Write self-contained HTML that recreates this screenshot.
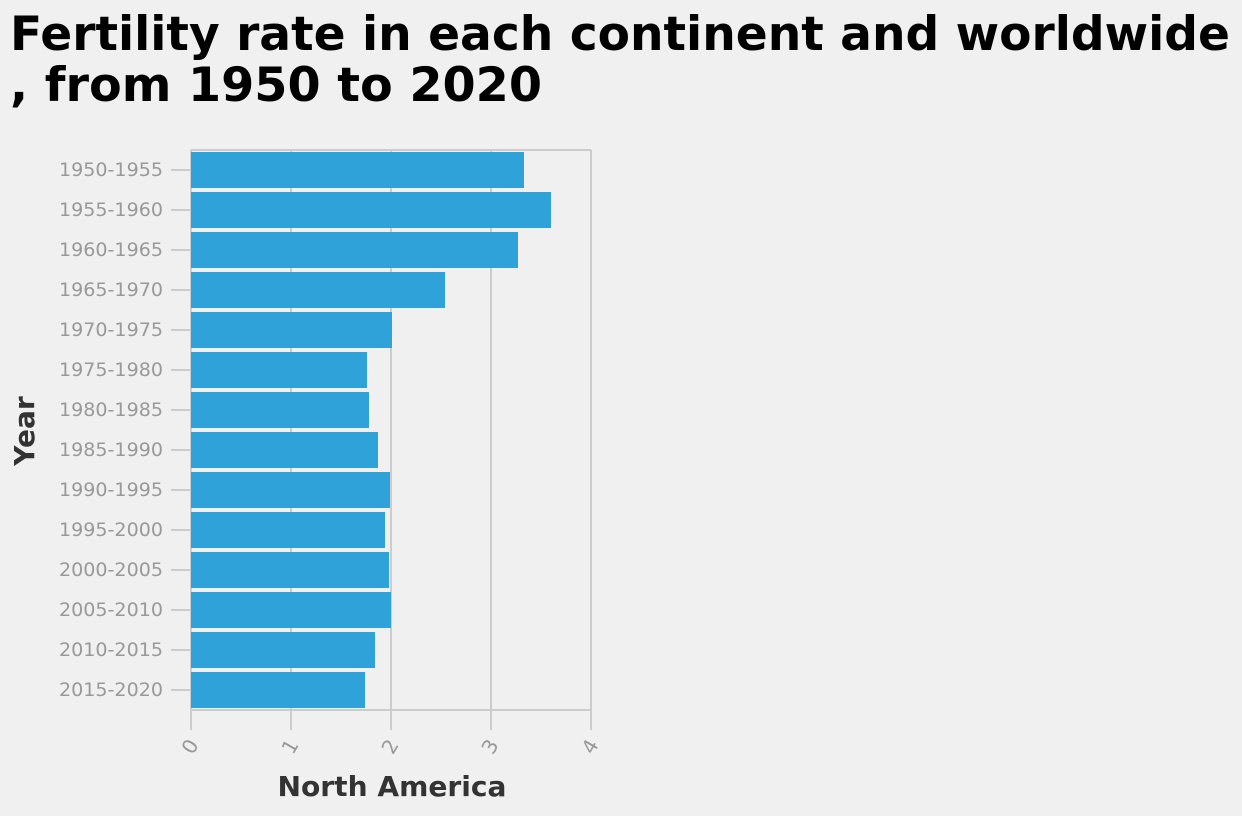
<!DOCTYPE html>
<html><head><meta charset="utf-8"><style>
body{margin:0;background:#f0f0f0;font-family:"DejaVu Sans","Liberation Sans",sans-serif;}
</style></head><body>
<svg width="1242" height="812" xmlns="http://www.w3.org/2000/svg">
<text x="10" y="50" font-size="47" font-weight="bold" fill="#000" textLength="1220" lengthAdjust="spacingAndGlyphs">Fertility rate in each continent and worldwide</text>
<text x="10" y="101" font-size="47" font-weight="bold" fill="#000" textLength="532" lengthAdjust="spacingAndGlyphs">, from 1950 to 2020</text>
<g id="plot"></g>
<text x="392" y="796" font-size="28" font-weight="bold" fill="#333" text-anchor="middle" textLength="229" lengthAdjust="spacingAndGlyphs">North America</text>
<text transform="translate(34,431) rotate(-90)" font-size="28" font-weight="bold" fill="#333" text-anchor="middle">Year</text>
</svg>
<script>
const categories=["1950-1955","1955-1960","1960-1965","1965-1970","1970-1975","1975-1980","1980-1985","1985-1990","1990-1995","1995-2000","2000-2005","2005-2010","2010-2015","2015-2020"];
const values=[3.33,3.60,3.27,2.54,2.01,1.76,1.78,1.87,1.99,1.94,1.98,2.00,1.84,1.74];
const xTicks=[0,1,2,3,4];
const NS="http://www.w3.org/2000/svg";
const g=document.getElementById('plot');
const x0=191,x1=591,y0=150,y1=710;
const x=v=>x0+(v-0)/(4-0)*(x1-x0);
const band=(y1-y0)/categories.length;
const y=i=>y0+i*band;
function mk(t,a){const e=document.createElementNS(NS,t);for(const k in a)e.setAttribute(k,a[k]);g.appendChild(e);return e;}
let e=mk('line',{x1:x0,y1:y0,x2:x1,y2:y0,stroke:'#ccc','stroke-width':2});


xTicks.forEach(t=>{
 let l=mk('line',{x1:x(t),y1:y0,x2:x(t),y2:y1+20,stroke:'#ccc','stroke-width':2});
 
 
 let tx=mk('text',{transform:`translate(${x(t)+5},${y1+40}) rotate(-60)`,'font-size':20,fill:'#999','text-anchor':'middle'});
 tx.textContent=t;
 
 
});
categories.forEach((c,i)=>{
 const cy=y(i)+band/2;
 let tk=mk('line',{x1:171,y1:cy,x2:191,y2:cy,stroke:'#ccc','stroke-width':2});
 
 
 let t=mk('text',{x:163,y:cy+6,'font-size':19,fill:'#999','text-anchor':'end',textLength:104,lengthAdjust:'spacingAndGlyphs'});
 t.textContent=c;
 
 
 let r=mk('rect',{x:x(0),y:y(i)+2,width:x(values[i])-x(0),height:band-4,fill:'#2fa2d9'});
 
 
});
let ax=mk('line',{x1:x0,y1:y1,x2:x1,y2:y1,stroke:'#ccc','stroke-width':2});


</script>
</body></html>
